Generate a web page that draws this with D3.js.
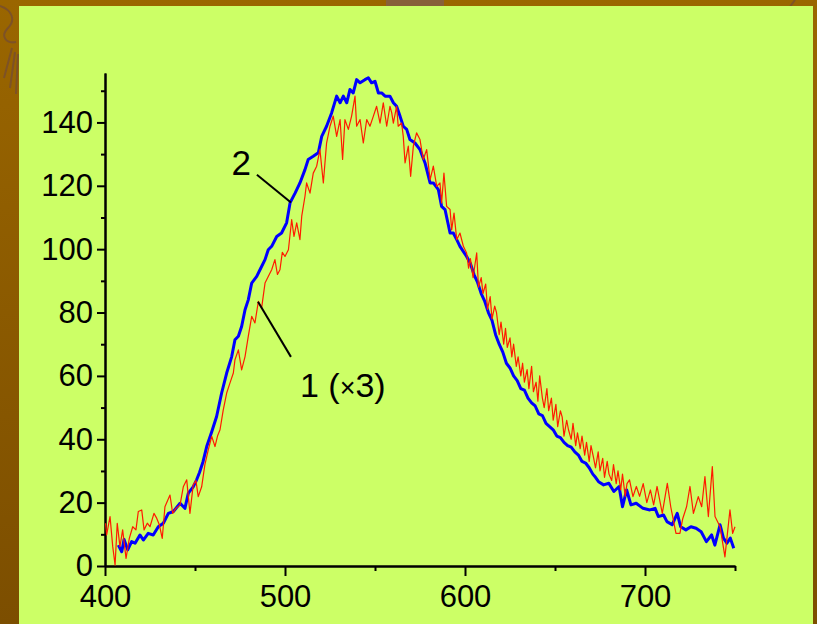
<!DOCTYPE html>
<html>
<head>
<meta charset="utf-8">
<script src="https://cdn.jsdelivr.net/npm/d3@7"></script>
<style>
  html, body { margin: 0; padding: 0; background: #996600; }
  svg { display: block; }
  text { font-family: "Liberation Sans", Arial, sans-serif; fill: #000; }
</style>
</head>
<body>
<svg id="chart" width="817" height="624"></svg>
<script>
// Emission spectra: wavelength (nm) and intensity (a.u.)
// Curve 2 (blue, thick)
const blueNm = [407.4,409.3,410.6,412.6,414.8,416.7,419.4,421.3,424,426.8,429.6,432.4,435.2,438,441.7,444.4,446.3,449,450.9,452.5,454.5,456.5,459.3,462,464.8,467.6,470.4,472.2,474.1,475.9,477.8,479.6,481.5,484.3,486.1,488.9,490.7,492.6,495.4,498.1,500.9,502.8,505.6,508.3,511.1,512.9,515.7,518.5,520.4,523.1,525.9,528.7,530.6,532.4,534.3,536.1,537.9,539.8,541.7,544.4,546.3,548.1,550,551.9,553.7,555.6,558.3,560.2,562,563.9,565.7,567.6,569.4,572.2,575,577.8,580.6,582.4,585.2,587,588.9,591.7,593.5,595.4,597.2,600.9,603,605,607,609,611,613,615,617,619,621,623,625,627,629,631,633,635,637,639,641,643,645,647,649,651,653,655,657,659,661,663,665,667,669,671,672.5,674.2,677,679.9,682.7,685.6,687.5,689.8,692.2,695.1,698.9,702.7,705.6,707.4,710.3,712.2,715.1,717.9,719.8,722.7,725.5,728.4,731.2,734.1,737,738.8,741.7,743.6,745.5,747.4,749.3];
const blueVal = [6.6,4.5,8.4,5.1,7.7,7.2,9.8,8.2,10.3,9.8,12.4,13.5,16.6,17.2,19.8,18.2,23,25,27.2,29.5,33,37.7,42.4,47.2,54.6,60.9,66.1,71.4,72.5,75.6,80.9,84,89.3,91.4,93.5,96.7,99.8,100.9,104,105.1,108.3,114.6,117.7,120.9,125.1,128.3,129.3,130.4,135.6,138.8,143,148.3,146.2,148.3,146.2,150.4,149.3,153.5,152.5,153.5,154.1,152.5,153,149.3,149.3,148.3,148.3,146.2,145.1,142,138.8,137.8,134.6,133.5,131.4,127.2,120.9,120.9,118.8,113.5,112.5,105.1,105.1,103,100.9,97.7,95.5,92,89.5,86,83.5,80,77.5,73,70,67.5,64,62.5,60,58.5,56,55.5,53,51.5,50.5,48,47.5,45,44,43,41,40.5,39,38,37.5,36,35,33,32.5,31,29,28,26.6,25.6,26.1,23.5,25.1,18.7,24,19.3,19.8,18.2,17.7,18.2,15.6,16.1,14,13,16.6,12.4,11.4,12.4,11.9,10.8,7.7,9.8,6.6,13,8.8,7.2,8.8,5.6];

// Curve 1 (red, thin), intensity multiplied by 3
const redNm = [400.3,400.9,402.8,404.3,405.6,406.8,408.3,409.8,411.7,413.5,415.4,417.2,418.5,420.4,421.7,423.5,425,427.2,428.7,430.2,431.8,433.3,436.1,437.6,439.4,441.7,443.5,445.4,447.2,449,450.5,451.8,453.7,455.5,457.4,459.3,461.1,462.5,463.9,465.7,467.6,469.4,471.3,472.2,474.1,475.9,477.8,479.6,481.5,483.3,485.2,487,488.9,490.7,492.6,494.4,495.8,497.2,498.5,500,501.9,503.7,505,506.5,508.3,509.3,511.1,512,513.9,515.7,517.6,519.4,521.3,523.1,525,526.8,528.7,530.6,532,533.3,535.2,537,538.9,539.8,541.7,543.5,545.4,547.2,549.1,550.9,552.8,554.6,556.5,558.3,559.3,560.2,562,562.9,564.8,565.7,566.7,568.5,569.8,571.3,573.1,575,576.8,578.7,580.6,582.4,584.3,586.1,587,588.3,589.8,591.7,592.6,593.9,595.4,597.2,599.1,600.9,602,603,604.5,605.5,606.5,607.5,609,610,611.5,612.5,614,615,616.5,617.5,619,620,621.5,622.5,623.5,625,626,627,628.5,629.5,631,632,633,634.5,635.5,637,638,639.5,640.5,641.5,643,644,645.5,646.5,648,649,650.5,651.5,653,654,655,656.5,657.5,659,660,661.5,662.5,664,665,666.5,667.5,669,670,671.5,672.5,674,675,676.5,677.5,679,680,681.5,682.5,684,685,686.5,687.5,689,690,691.4,693.3,695.2,697,699,701,703,704.8,706.7,709.6,712.4,714.3,717.2,719.4,721,723.1,725,726.9,729.6,731.5,733.3,735.2,737.4,738.9,741.7,744.4,747.2,748.7,750];
const redVal = [13.5,9.8,15.6,6.1,0.3,13.5,6.1,11.4,2.4,8.7,12.4,11.4,17.2,17.7,11.4,13.5,12.4,16.6,15.1,13,8.7,18.7,22.4,16.6,18.2,19.3,25,27.2,16.6,25.6,27,21.9,25,32,36.7,40.9,37.7,41,43,49.3,54.6,57.7,60.9,65.1,68.2,61.9,66.1,72.5,78.8,76.7,83.5,81.4,89.3,91.4,93.5,96.7,92,93.5,99,97.7,99.8,109.3,104,108.3,103,110.4,116.7,120.9,117.7,124,126.2,131.4,120.9,133.5,138.8,142,135.6,140.9,128.3,140.9,137.8,142,148.3,138.8,140.9,133.5,140.9,138.8,142,145.1,139.8,146.2,138.8,145.1,143,139.8,145.1,138.8,139.8,135.6,127.2,132.5,123,132.5,136.7,134.6,128.3,131.4,121.9,126.2,119.8,120.9,114.6,124,113.5,112.5,106.1,111.4,103,105.1,100.9,98.8,94,97,91,95,98.8,88,91,86,89,81,85,78,82,80,73,77,70,75,69,72,66,70,63,66,60,64,58,62,56,63,55,58,52,60,53,50,56,49,53,46,51,44,49,47,41,46,43,40,45,38,42,37,41,35,39,33,38,34,31,36,30,34,28,33,29,27,32,26,30,24,29,22,26,27.2,21.9,25.1,22,26,20,24,19.3,25.1,16.6,26.1,18.7,10.3,10.3,15,18.7,25.1,16.6,21.9,18.7,28.2,15.6,31.4,15.6,12.4,2.9,17.7,10.3,12.4];

// Axis ticks
const xMajorTicks = [400, 500, 600, 700];
const xMinorTicks = [450, 550, 650, 750];
const yMajorTicks = [0, 20, 40, 60, 80, 100, 120, 140];
const yMinorTicks = [10, 30, 50, 70, 90, 110, 130, 150];

const svg = d3.select("#chart");
const W = 817, H = 624;

// Slide backdrop
const defs = svg.append("defs");
const grad = defs.append("linearGradient").attr("id", "bg")
  .attr("x1", 0).attr("y1", 0).attr("x2", 0).attr("y2", 1);
grad.append("stop").attr("offset", "0%").attr("stop-color", "#9a6600");
grad.append("stop").attr("offset", "100%").attr("stop-color", "#7c4e00");
svg.append("rect").attr("width", W).attr("height", H).attr("fill", "url(#bg)");

const deco = svg.append("g").attr("fill", "none").attr("stroke", "#7d5226").attr("stroke-width", 2);
deco.append("path").attr("d", "M0,6 C12,10 16,20 8,28 C0,36 6,44 16,42");
deco.append("path").attr("d", "M12,48 L4,78 M15,52 L10,88 M18,54 L16,94");
deco.append("path").attr("d", "M795,0 L789,8");
svg.append("rect").attr("x", 386).attr("y", 0).attr("width", 58).attr("height", 7).attr("fill", "#87603a");

// Chart panel
svg.append("rect").attr("x", 19).attr("y", 6).attr("width", 794).attr("height", 624)
  .attr("fill", "#ccff66");

const x = d3.scaleLinear().domain([400, 750]).range([105, 735]);
const y = d3.scaleLinear().domain([0, 155.6]).range([566, 73]);

const g = svg.append("g");

// Axes
const xAxisMajor = d3.axisBottom(x).tickValues(xMajorTicks).tickSize(10).tickSizeOuter(0).tickPadding(9);
const xAxisMinor = d3.axisBottom(x).tickValues(xMinorTicks).tickSize(5).tickSizeOuter(0).tickFormat("");
const yAxisMajor = d3.axisLeft(y).tickValues(yMajorTicks).tickSize(8).tickSizeOuter(0).tickPadding(4);
const yAxisMinor = d3.axisLeft(y).tickValues(yMinorTicks).tickSize(4).tickSizeOuter(0).tickFormat("");

function styleAxis(sel) {
  sel.select(".domain").attr("stroke", "#000").attr("stroke-width", 2);
  sel.selectAll(".tick line").attr("stroke", "#000").attr("stroke-width", 2);
  sel.selectAll(".tick text").attr("font-size", 31).attr("fill", "#000")
    .attr("font-family", "Liberation Sans, Arial, sans-serif");
}

g.append("g").attr("transform", `translate(0,${y(0)})`).call(xAxisMinor).call(styleAxis);
g.append("g").attr("transform", `translate(0,${y(0)})`).call(xAxisMajor).call(styleAxis);
g.append("g").attr("transform", `translate(${x(400)},0)`).call(yAxisMinor).call(styleAxis);
g.append("g").attr("transform", `translate(${x(400)},0)`).call(yAxisMajor).call(styleAxis);

// Spectra
const line = d3.line().x(d => x(d[0])).y(d => y(d[1]));
const blue = blueNm.map((n, i) => [n, blueVal[i]]);
const red = redNm.map((n, i) => [n, redVal[i]]);

g.append("path").datum(blue).attr("d", line)
  .attr("fill", "none").attr("stroke", "#0000ff").attr("stroke-width", 3)
  .attr("stroke-linejoin", "round");
g.append("path").datum(red).attr("d", line)
  .attr("fill", "none").attr("stroke", "#ff1a00").attr("stroke-width", 1.2)
  .attr("stroke-linejoin", "round");

// Curve labels with leader lines
const ann = g.append("g");
ann.append("line")
  .attr("x1", x(484.4)).attr("y1", y(123.5)).attr("x2", x(503.3)).attr("y2", y(114.7))
  .attr("stroke", "#000").attr("stroke-width", 2);
ann.append("text").attr("x", x(470.3)).attr("y", y(123.5)).attr("font-size", 35).text("2");

ann.append("line")
  .attr("x1", x(485)).attr("y1", y(83.4)).attr("x2", x(503.3)).attr("y2", y(66))
  .attr("stroke", "#000").attr("stroke-width", 2);
const t1 = ann.append("text").attr("x", x(508.3)).attr("y", y(53.4)).attr("font-size", 34);
t1.append("tspan").text("1 (");
t1.append("tspan").attr("font-size", 27).text("×");
t1.append("tspan").text("3)");
</script>
</body>
</html>
